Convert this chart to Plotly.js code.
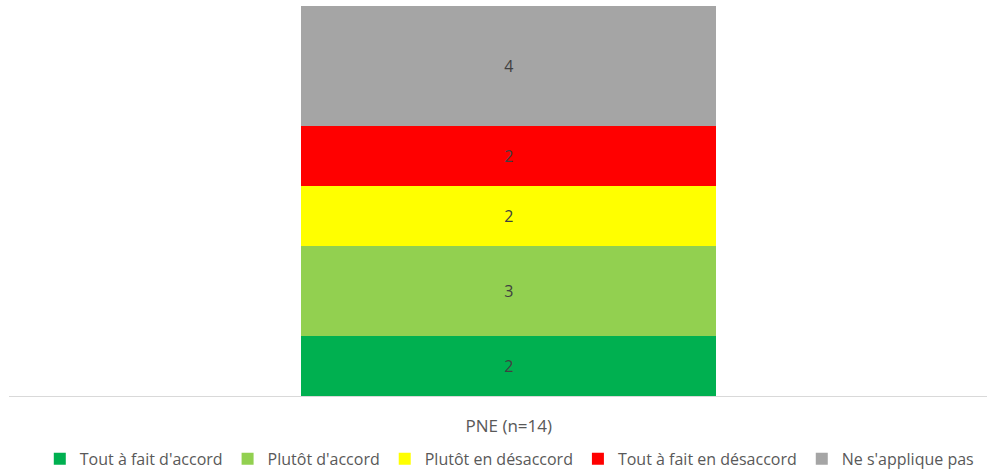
<!DOCTYPE html>
<html>
<head>
<meta charset="utf-8">
<script src="https://cdn.plot.ly/plotly-3.0.1.min.js"></script>
<style>html,body{margin:0;padding:0;background:#fff;}#chart{width:987px;height:473px;}</style>
</head>
<body>
<div id="chart"></div>
<script>
const categories = ["PNE (n=14)"];
const seriesNames = ["Tout à fait d'accord", "Plutôt d'accord", "Plutôt en désaccord", "Tout à fait en désaccord", "Ne s'applique pas"];
const toutAFaitDAccord = [2];
const plutotDAccord = [3];
const plutotEnDesaccord = [2];
const toutAFaitEnDesaccord = [2];
const neSAppliquePas = [4];
const seriesValues = [toutAFaitDAccord, plutotDAccord, plutotEnDesaccord, toutAFaitEnDesaccord, neSAppliquePas];
const colors = ["#00B050", "#92D050", "#FFFF00", "#FF0000", "#A5A5A5"];

const font = "'Open Sans', sans-serif";
const traces = seriesNames.map((name, i) => ({
  type: "bar",
  name: name,
  x: categories,
  y: seriesValues[i],
  width: 0.4243,
  marker: {color: colors[i], line: {width: 0}},
  text: seriesValues[i].map(String),
  textposition: "inside",
  insidetextanchor: "middle",
  textfont: {family: font, size: 16, color: "#404040"},
  hoverinfo: "name+y"
}));

const layout = {
  width: 987, height: 473,
  margin: {l: 9, r: 0, t: 6, b: 77},
  barmode: "stack",
  showlegend: true,
  paper_bgcolor: "#fff", plot_bgcolor: "#fff",
  font: {family: font, color: "#595959"},
  xaxis: {
    range: [-0.511, 0.489],
    showline: true, linecolor: "#D9D9D9", linewidth: 1,
    ticks: "", showgrid: false, zeroline: false,
    tickfont: {family: font, size: 17, color: "#595959"},
    ticklabelstandoff: 15,
    automargin: false
  },
  yaxis: {range: [0, 13], visible: false, showgrid: false, zeroline: false},
  legend: {
    orientation: "h", x: 0.516, xanchor: "center", xref: "container",
    y: 0.03, yanchor: "middle", yref: "container",
    font: {family: font, size: 16, color: "#595959"},
    traceorder: "normal", itemwidth: 30, tracegroupgap: 0
  }
};
Plotly.newPlot("chart", traces, layout, {displayModeBar: false, staticPlot: true});
</script>
</body>
</html>
